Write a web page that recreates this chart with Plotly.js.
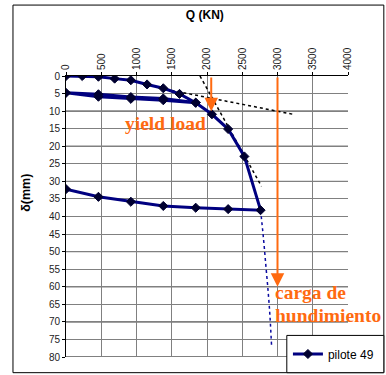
<!DOCTYPE html>
<html>
<head>
<meta charset="utf-8">
<script src="https://cdn.plot.ly/plotly-3.0.1.min.js"></script>
<style>
  html, body { margin: 0; padding: 0; background: #ffffff; }
  #chart { width: 386px; height: 375px; }
</style>
</head>
<body>
<div id="chart"></div>
<script>
// Load test, pile 49: applied load Q (kN) against settlement δ (mm)
const loadQ = [0, 230, 460, 690, 920, 1150, 1380, 1610, 1840,
               1380, 920, 460, 0,
               460, 920, 1380, 1840,
               2070, 2300, 2530, 2760,
               2300, 1840, 1380, 920, 460, 0];
const settlement = [0, 0, 0.2, 0.75, 1.2, 2.4, 3.5, 5.1, 7.6,
                    6.9, 6.5, 5.9, 4.8,
                    5.2, 6.0, 6.4, 7.6,
                    10.9, 15.1, 22.9, 38.2,
                    37.9, 37.5, 37.0, 35.8, 34.4, 32.2];

// Extrapolated branch after the last loading step
const extrapQ = [2760, 2800, 2835, 2870, 2895, 2915];
const extrapD = [38.2, 46, 54, 62, 69, 76.5];

// Tangent construction for the yield load
const steepTangentQ = [1900, 2773];
const steepTangentD = [0, 31.4];
const flatTangentQ = [1497, 3220];
const flatTangentD = [4.1, 10.9];

// Marked loads (kN) and the settlement where each arrow ends (mm)
const yieldLoad = 2060, yieldArrowEnd = 10;
const failureLoad = 3000, failureArrowEnd = 60;

// Axis ticks
const qTicks = [0, 500, 1000, 1500, 2000, 2500, 3000, 3500, 4000];
const dTicks = [0, 5, 10, 15, 20, 25, 30, 35, 40, 45, 50, 55, 60, 65, 70, 75, 80];

const orange = '#ff6a10';
const navy = '#000080';
const tickFont = { family: 'Liberation Sans, Arial, sans-serif', size: 10, color: '#222222' };

const traces = [
  {
    x: flatTangentQ, y: flatTangentD, mode: 'lines', showlegend: false, hoverinfo: 'skip',
    line: { color: '#000000', width: 1.5, dash: 'dot' }
  },
  {
    x: steepTangentQ, y: steepTangentD, mode: 'lines', showlegend: false, hoverinfo: 'skip',
    line: { color: '#000000', width: 1.5, dash: 'dot' }
  },
  {
    x: extrapQ, y: extrapD, mode: 'lines', showlegend: false, hoverinfo: 'skip',
    line: { color: '#0a0aa0', width: 1.5, dash: 'dot', shape: 'spline' }
  },
  {
    x: loadQ, y: settlement, mode: 'lines+markers', name: 'pilote 49',
    line: { color: navy, width: 3 },
    marker: { symbol: 'diamond', size: 7, color: '#000030', line: { color: '#000030', width: 1 } }
  }
];

// Heavier grid lines every 10 mm, drawn from the tick list
const shapes = dTicks.filter(d => d > 0 && d % 10 === 0).map(d => ({
  type: 'line', xref: 'paper', yref: 'y', x0: 0, x1: 1, y0: d, y1: d,
  layer: 'below', line: { color: '#000000', width: 1 }
}));

// Outer chart frame
shapes.push({
  type: 'rect', xref: 'paper', yref: 'paper',
  x0: -0.188, x1: 1.127, y0: -0.0558, y1: 1.2524,
  layer: 'above', fillcolor: 'rgba(0,0,0,0)', line: { color: '#000000', width: 1 }
});
// Legend box
shapes.push({
  type: 'rect', xref: 'paper', yref: 'paper',
  x0: 0.783, x1: 1.127, y0: -0.0558, y1: 0.0768,
  layer: 'above', fillcolor: '#ffffff', line: { color: '#000000', width: 1 }
});

const labelFont = { family: 'Liberation Serif, Times New Roman, serif', size: 19.5, color: orange, weight: 'bold' };

const annotations = [
  {
    x: yieldLoad, y: yieldArrowEnd, ax: yieldLoad, ay: 0, axref: 'x', ayref: 'y',
    text: '', showarrow: true, arrowhead: 2, arrowsize: 1.35, arrowwidth: 2, arrowcolor: orange, standoff: 0
  },
  {
    x: failureLoad, y: failureArrowEnd, ax: failureLoad, ay: 0, axref: 'x', ayref: 'y',
    text: '', showarrow: true, arrowhead: 2, arrowsize: 1.35, arrowwidth: 2, arrowcolor: orange, standoff: 0
  },
  {
    x: 2016, y: 13.45, xanchor: 'right', yanchor: 'middle', showarrow: false,
    text: '<b>yield load</b>', font: labelFont
  },
  {
    x: 2935, y: 61.5, xanchor: 'left', yanchor: 'middle', showarrow: false,
    text: '<b>carga de</b>', font: labelFont
  },
  {
    x: 2935, y: 68.2, xanchor: 'left', yanchor: 'middle', showarrow: false,
    text: '<b>hundimiento</b>', font: labelFont
  },
  {
    xref: 'paper', yref: 'paper', x: -0.1424, y: 0.584, textangle: -90,
    xanchor: 'center', yanchor: 'middle', showarrow: false,
    text: '<b>δ(mm)</b>', font: { family: 'Liberation Sans, Arial, sans-serif', size: 12.5, color: '#000000' }
  }
];

const layout = {
  width: 386, height: 375,
  margin: { l: 66, r: 37.7, t: 76, b: 17.7, autoexpand: false },
  paper_bgcolor: '#ffffff', plot_bgcolor: '#ffffff',
  title: {
    text: '<b>Q (KN)</b>', xref: 'container', yref: 'container',
    x: 0.5306, y: 0.96, xanchor: 'center', yanchor: 'middle',
    font: { family: 'Liberation Sans, Arial, sans-serif', size: 12, color: '#000000' }
  },
  xaxis: {
    range: [0, 4000], side: 'top', tickmode: 'array', tickvals: qTicks,
    ticktext: qTicks.map(String), tickangle: -90, tickfont: tickFont,
    ticks: 'outside', ticklen: 3, tickcolor: '#000000',
    showgrid: true, gridcolor: '#808080', gridwidth: 1,
    showline: true, linecolor: '#000000', linewidth: 1, zeroline: false
  },
  yaxis: {
    range: [80, 0], tickmode: 'array', tickvals: dTicks,
    ticktext: dTicks.map(String), tickfont: tickFont,
    ticks: 'outside', ticklen: 3, tickcolor: '#000000',
    showgrid: true, gridcolor: '#808080', gridwidth: 1,
    showline: true, linecolor: '#000000', linewidth: 1, zeroline: false
  },
  showlegend: true,
  legend: {
    x: 0.787, y: 0.0107, xanchor: 'left', yanchor: 'middle',
    bgcolor: 'rgba(0,0,0,0)', borderwidth: 0, itemwidth: 30,
    font: { family: 'Liberation Sans, Arial, sans-serif', size: 12, color: '#000000' }
  },
  shapes: shapes,
  annotations: annotations
};

Plotly.newPlot('chart', traces, layout, { displayModeBar: false, staticPlot: true });
</script>
</body>
</html>
